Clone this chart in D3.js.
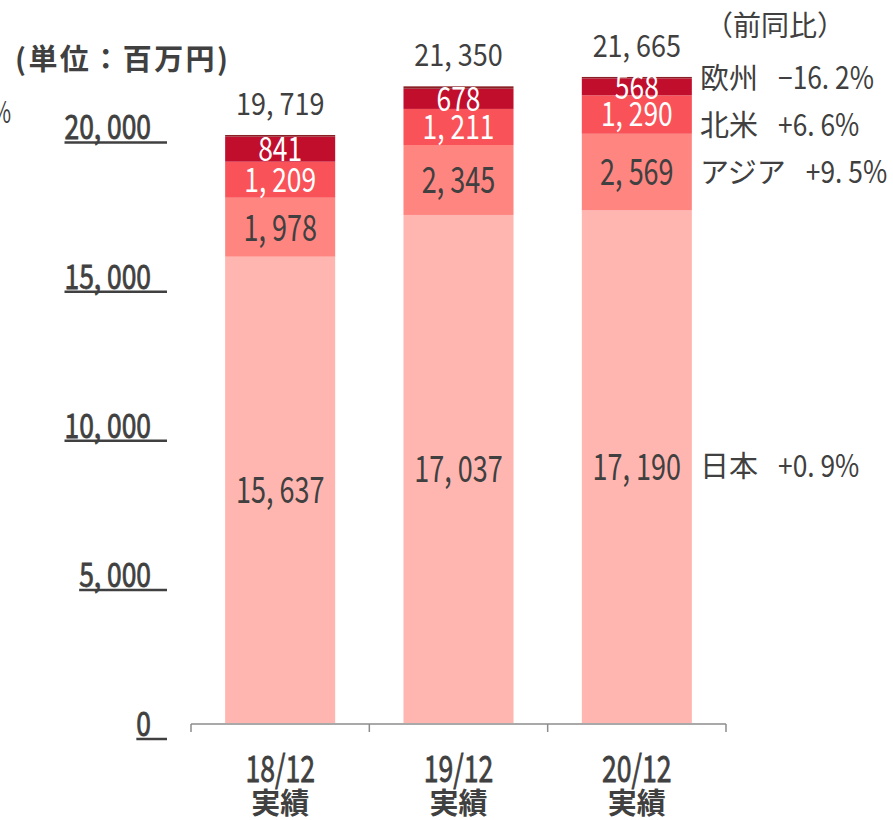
<!DOCTYPE html>
<html>
<head>
<meta charset="utf-8">
<script src="https://cdn.jsdelivr.net/npm/d3@7"></script>
<style>
  body { margin: 0; background: #fff; }
  svg { display: block; font-family: 'Noto Sans CJK JP', sans-serif; }
</style>
</head>
<body>
<svg id="chart"></svg>
<script>
// data
const periods = ['18/12', '19/12', '20/12'];
const japan = [15637, 17037, 17190];
const asia = [1978, 2345, 2569];
const northAmerica = [1209, 1211, 1290];
const europe = [841, 678, 568];
const other = [54, 79, 48];
const totals = [19719, 21350, 21665];
const yTicks = [0, 5000, 10000, 15000, 20000];
const yoyRegions = ['欧州', '北米', 'アジア', '日本'];
const yoyValues = ['−16. 2%', '+6. 6%', '+9. 5%', '+0. 9%'];

const W = 893, H = 820;
const textColor = '#404040';

const series = [
  {key: 'japan', values: japan, color: '#ffb6b0', label: textColor},
  {key: 'asia', values: asia, color: '#ff8581', label: textColor},
  {key: 'na', values: northAmerica, color: '#f95258', label: '#fff'},
  {key: 'eu', values: europe, color: '#c10e2d', label: '#fff'},
  {key: 'other', values: other, color: '#8a1f25', label: null}
];

const rows = periods.map((p, i) => {
  const r = {period: p};
  series.forEach(s => r[s.key] = s.values[i]);
  return r;
});

const svg = d3.select('#chart').attr('width', W).attr('height', H);

const x = d3.scaleBand()
    .domain(periods)
    .range([191, 726])
    .paddingInner(0.383)
    .paddingOuter(0.1915);

const y = d3.scaleLinear()
    .domain([0, 20000])
    .range([723, 126.6]);

const stack = d3.stack().keys(series.map(s => s.key));
const layers = stack(rows);

// number format like "19, 719"
const fmt = v => d3.format(',')(v).replace(',', ', ');

// text squeezed horizontally, like the narrow digits of the original
function squeezed(parent, px, py, txt, sx, size, anchor) {
  return parent.append('text')
      .attr('transform', `translate(${px},${py}) scale(${sx},1)`)
      .attr('text-anchor', anchor || 'middle')
      .attr('font-size', size)
      .text(txt);
}

// bars
const barG = svg.append('g');
layers.forEach((layer, li) => {
  barG.selectAll(null)
    .data(layer)
    .join('rect')
      .attr('x', d => x(d.data.period))
      .attr('width', x.bandwidth())
      .attr('y', d => y(d[1]))
      .attr('height', d => y(d[0]) - y(d[1]))
      .attr('fill', series[li].color);
});

// segment labels
const segG = svg.append('g');
layers.forEach((layer, li) => {
  const s = series[li];
  if (!s.label) return;
  layer.forEach(d => {
    const cy = (y(d[0]) + y(d[1])) / 2;
    const fs = li >= 2 ? 33 : 37;
    squeezed(segG, x(d.data.period) + x.bandwidth() / 2, cy + fs * 0.36,
             fmt(d[1] - d[0]), li >= 2 ? 0.8 : 0.73, fs)
      .attr('fill', s.label);
  });
});

// totals on top
const totG = svg.append('g').attr('fill', textColor);
totals.forEach((t, i) => {
  squeezed(totG, x(periods[i]) + x.bandwidth() / 2, y(t) - 20, fmt(t), 0.87, 31);
});

// y axis labels with underline (semi-bold look)
const yG = svg.append('g')
    .attr('fill', textColor)
    .attr('stroke', textColor)
    .attr('stroke-width', 0.8);
yTicks.forEach(v => {
  const t = squeezed(yG, 151, y(v) + 1 + 33 * 0.36, fmt(v), 0.8, 33, 'end');
  const w = t.node().getComputedTextLength() * 0.8;
  yG.append('line')
      .attr('x1', 151 - w).attr('x2', 167)
      .attr('y1', y(v) + 16).attr('y2', y(v) + 16)
      .attr('stroke-width', 2.5);
});

// x axis
const xAxisG = svg.append('g').attr('transform', 'translate(0,724)');
xAxisG.append('line')
    .attr('x1', x.range()[0]).attr('x2', x.range()[1])
    .attr('stroke', '#8c8c8c').attr('stroke-width', 1.5);
const bounds = periods.map(p => x(p) - x.step() * x.paddingInner() / 2);
bounds[0] = x.range()[0];
bounds.push(x.range()[1]);
xAxisG.selectAll('.tick')
  .data(bounds)
  .join('line')
    .attr('x1', d => d).attr('x2', d => d)
    .attr('y1', 0).attr('y2', 8)
    .attr('stroke', '#8c8c8c').attr('stroke-width', 1.5);

const xLab = svg.append('g').attr('fill', textColor);
periods.forEach(p => {
  const cx = x(p) + x.bandwidth() / 2;
  squeezed(xLab, cx, 769 + 37 * 0.36, p, 0.72, 37)
      .attr('stroke', textColor)
      .attr('stroke-width', 0.8);
  xLab.append('text')
      .attr('x', cx).attr('y', 814)
      .attr('text-anchor', 'middle')
      .attr('font-size', 29)
      .attr('font-weight', 700)
      .text('実績');
});

// unit label
svg.append('text')
    .attr('x', 15).attr('y', 70)
    .attr('font-size', 29)
    .attr('font-weight', 700)
    .attr('fill', textColor)
    .attr('textLength', 213)
    .attr('lengthAdjust', 'spacing')
    .text('(単位：百万円)');

// clipped leftover at the left edge
squeezed(svg, 11, 123, '%', 0.7, 30, 'end').attr('fill', textColor);

// year-over-year notes
svg.append('text')
    .attr('x', 775).attr('y', 36)
    .attr('text-anchor', 'middle')
    .attr('font-size', 28)
    .attr('fill', textColor)
    .text('（前同比）');

const noteY = [78, 125, 172, 466];
const noteG = svg.append('g').attr('fill', textColor);
yoyRegions.forEach((r, i) => {
  const k = noteG.append('text')
      .attr('x', 700).attr('y', noteY[i] + 11)
      .attr('font-size', 29)
      .text(r);
  const kw = k.node().getComputedTextLength();
  squeezed(noteG, 700 + kw + 20, noteY[i] + 11, yoyValues[i], 0.85, 31, 'start');
});
</script>
</body>
</html>
